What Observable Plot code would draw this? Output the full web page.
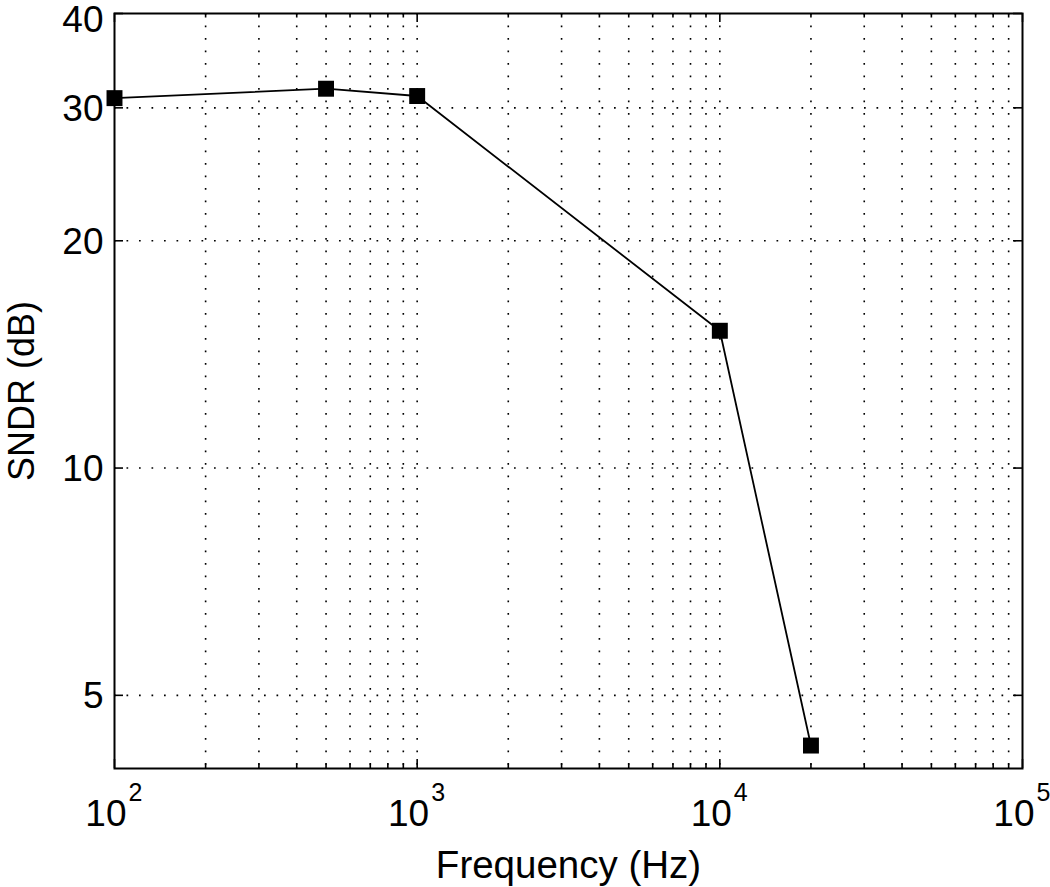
<!DOCTYPE html>
<html>
<head>
<meta charset="utf-8">
<script src="https://cdn.jsdelivr.net/npm/d3@7"></script>
<script src="https://cdn.jsdelivr.net/npm/@observablehq/plot@0.6"></script>
<style>
  html, body { margin: 0; padding: 0; background: #fff; }
  #chart svg { display: block; }
</style>
</head>
<body>
<div id="chart"></div>
<script>
// ---- data ----
const frequency = [100, 500, 1000, 10000, 20000];   // Hz
const sndr = [30.9, 31.8, 31.1, 15.2, 4.29];          // dB
const xTickValues = [100, 1000, 10000, 100000];
const yTickValues = [5, 10, 20, 30, 40];
const yGridValues = [5, 10, 20, 30];
const xLabel = "Frequency (Hz)";
const yLabel = "SNDR (dB)";

// minor/major x grid positions (every integer multiple within each decade)
const xGridValues = [];
for (const dec of [100, 1000, 10000]) for (let k = 1; k <= 9; k++) xGridValues.push(k * dec);
xGridValues.push(100000);
const xMinor = xGridValues.filter(v => !xTickValues.includes(v));

const data = frequency.map((f, i) => ({f, s: sndr[i]}));

const W = 1050, H = 887;
const mL = 114, mR = 28, mT = 13, mB = 119;
const fw = W - mL - mR, fh = H - mT - mB;
const majorLen = 9, minorLen = 4.5, yTickLen = 9;
const font = "'Liberation Sans', Arial, Helvetica, sans-serif";
const grid = {stroke: "#000", strokeWidth: 1.6, strokeDasharray: "1.7,10.8"};
const tickFont = 37;

const chart = Plot.plot({
  width: W, height: H,
  marginLeft: mL, marginRight: mR, marginTop: mT, marginBottom: mB,
  style: {fontFamily: font, color: "black", background: "white"},
  x: {type: "log", domain: [100, 100000], axis: null},
  y: {type: "log", domain: [4, 40], axis: null},
  marks: [
    // grid
    Plot.ruleX(xGridValues.slice(1, -1), {x: d => d, ...grid}),
    Plot.ruleY(yGridValues, {y: d => d, ...grid}),
    // x ticks (inward, bottom and top)
    Plot.ruleX(xTickValues, {x: d => d, insetTop: fh - majorLen, stroke: "black", strokeWidth: 1.6}),
    Plot.ruleX(xTickValues, {x: d => d, insetBottom: fh - majorLen, stroke: "black", strokeWidth: 1.6}),
    Plot.ruleX(xMinor, {x: d => d, insetTop: fh - minorLen, stroke: "black", strokeWidth: 1.6}),
    Plot.ruleX(xMinor, {x: d => d, insetBottom: fh - minorLen, stroke: "black", strokeWidth: 1.6}),
    // y ticks (inward, left and right)
    Plot.ruleY(yTickValues, {y: d => d, insetRight: fw - yTickLen, stroke: "black", strokeWidth: 1.6}),
    Plot.ruleY(yTickValues, {y: d => d, insetLeft: fw - yTickLen, stroke: "black", strokeWidth: 1.6}),
    Plot.frame({stroke: "black", strokeWidth: 2}),
    // data
    Plot.line(data, {x: "f", y: "s", stroke: "black", strokeWidth: 1.8}),
    Plot.dot(data, {x: "f", y: "s", symbol: "square", r: 9, fill: "black", stroke: "none"}),
    // y tick labels
    Plot.text(yTickValues.filter(v => v !== 40), {y: d => d, text: d => String(d), frameAnchor: "left", textAnchor: "end",
      dx: -11, dy: 1, fontSize: tickFont, fill: "black"}),
    Plot.text(yTickValues.filter(v => v === 40), {y: d => d, text: d => String(d), frameAnchor: "left", textAnchor: "end",
      dx: -11, dy: 7, fontSize: tickFont, fill: "black"}),
    // x tick labels: 10^n
    Plot.text(xTickValues, {x: d => d, text: () => "10", frameAnchor: "bottom", textAnchor: "end",
      lineAnchor: "bottom", dx: 12, dy: 57, fontSize: tickFont, fill: "black"}),
    Plot.text(xTickValues, {x: d => d, text: d => String(Math.round(Math.log10(d))), frameAnchor: "bottom",
      textAnchor: "start", lineAnchor: "bottom", dx: 14, dy: 32, fontSize: 25, fill: "black"}),
    // axis titles
    Plot.text([xLabel], {text: d => d, frameAnchor: "bottom", textAnchor: "middle", lineAnchor: "bottom",
      dy: 109, fontSize: 38.5, fill: "black"}),
    Plot.text([yLabel], {text: d => d, frameAnchor: "left", textAnchor: "middle", lineAnchor: "bottom", rotate: -90,
      dx: -81, dy: 0, fontSize: 36, fill: "black"})
  ]
});
document.getElementById("chart").append(chart);
</script>
</body>
</html>
